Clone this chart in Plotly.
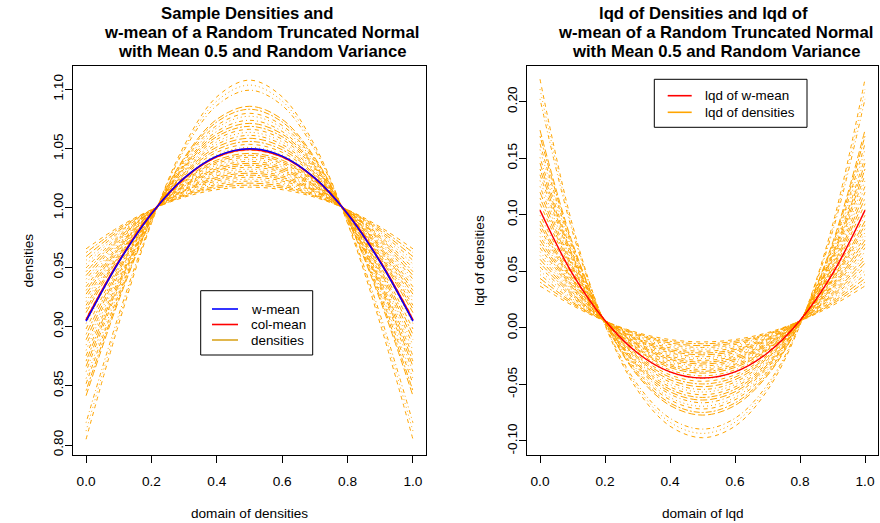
import plotly.graph_objects as go

W, H = 880, 523

# ---------------- data ----------------
x_grid = [0.0, 0.1, 0.2, 0.3, 0.4, 0.5, 0.6, 0.7, 0.8, 0.9, 1.0]
t_grid = [0.0, 0.1, 0.2, 0.3, 0.4, 0.5, 0.6, 0.7, 0.8, 0.9, 1.0]

density_rows = [
    [.8049, .9021, .9870, 1.0525, 1.0937, 1.1078, 1.0937, 1.0525, .9870, .9021, .8049],
    [.8118, .9059, .9876, 1.0505, 1.0901, 1.1036, 1.0901, 1.0505, .9876, .9059, .8118],
    [.8188, .9098, .9883, 1.0486, 1.0864, 1.0993, 1.0864, 1.0486, .9883, .9098, .8188],
    [.8416, .9220, .9903, 1.0423, 1.0747, 1.0857, 1.0747, 1.0423, .9903, .9220, .8416],
    [.8459, .9243, .9907, 1.0411, 1.0725, 1.0832, 1.0725, 1.0411, .9907, .9243, .8459],
    [.8517, .9273, .9912, 1.0395, 1.0696, 1.0798, 1.0696, 1.0395, .9912, .9273, .8517],
    [.8561, .9296, .9915, 1.0383, 1.0674, 1.0773, 1.0674, 1.0383, .9915, .9296, .8561],
    [.8619, .9327, .9920, 1.0367, 1.0645, 1.0739, 1.0645, 1.0367, .9920, .9327, .8619],
    [.8664, .9349, .9923, 1.0355, 1.0623, 1.0713, 1.0623, 1.0355, .9923, .9349, .8664],
    [.8708, .9372, .9927, 1.0343, 1.0601, 1.0688, 1.0601, 1.0343, .9927, .9372, .8708],
    [.8753, .9395, .9930, 1.0331, 1.0579, 1.0663, 1.0579, 1.0331, .9930, .9395, .8753],
    [.8798, .9418, .9933, 1.0319, 1.0557, 1.0637, 1.0557, 1.0319, .9933, .9418, .8798],
    [.8843, .9441, .9937, 1.0307, 1.0535, 1.0612, 1.0535, 1.0307, .9937, .9441, .8843],
    [.8888, .9464, .9940, 1.0294, 1.0513, 1.0587, 1.0513, 1.0294, .9940, .9464, .8888],
    [.8933, .9487, .9943, 1.0282, 1.0491, 1.0561, 1.0491, 1.0282, .9943, .9487, .8933],
    [.8979, .9510, .9946, 1.0270, 1.0469, 1.0536, 1.0469, 1.0270, .9946, .9510, .8979],
    [.9025, .9533, .9949, 1.0257, 1.0447, 1.0511, 1.0447, 1.0257, .9949, .9533, .9025],
    [.9071, .9556, .9952, 1.0245, 1.0425, 1.0486, 1.0425, 1.0245, .9952, .9556, .9071],
    [.9117, .9579, .9955, 1.0233, 1.0403, 1.0460, 1.0403, 1.0233, .9955, .9579, .9117],
    [.9148, .9594, .9957, 1.0225, 1.0388, 1.0444, 1.0388, 1.0225, .9957, .9594, .9148],
    [.9179, .9609, .9959, 1.0216, 1.0374, 1.0427, 1.0374, 1.0216, .9959, .9609, .9179],
    [.9210, .9625, .9961, 1.0208, 1.0359, 1.0410, 1.0359, 1.0208, .9961, .9625, .9210],
    [.9241, .9640, .9963, 1.0200, 1.0344, 1.0393, 1.0344, 1.0200, .9963, .9640, .9241],
    [.9273, .9655, .9964, 1.0191, 1.0330, 1.0376, 1.0330, 1.0191, .9964, .9655, .9273],
    [.9304, .9671, .9966, 1.0183, 1.0315, 1.0360, 1.0315, 1.0183, .9966, .9671, .9304],
    [.9335, .9686, .9968, 1.0175, 1.0301, 1.0343, 1.0301, 1.0175, .9968, .9686, .9335],
    [.9367, .9701, .9970, 1.0166, 1.0286, 1.0326, 1.0286, 1.0166, .9970, .9701, .9367],
    [.9399, .9717, .9972, 1.0158, 1.0271, 1.0309, 1.0271, 1.0158, .9972, .9717, .9399],
    [.9430, .9732, .9973, 1.0149, 1.0257, 1.0293, 1.0257, 1.0149, .9973, .9732, .9430],
    [.9462, .9747, .9975, 1.0141, 1.0242, 1.0276, 1.0242, 1.0141, .9975, .9747, .9462],
    [.9494, .9762, .9977, 1.0133, 1.0227, 1.0259, 1.0227, 1.0133, .9977, .9762, .9494],
    [.9526, .9778, .9978, 1.0124, 1.0213, 1.0242, 1.0213, 1.0124, .9978, .9778, .9526],
    [.9558, .9793, .9980, 1.0116, 1.0198, 1.0226, 1.0198, 1.0116, .9980, .9793, .9558],
    [.9590, .9808, .9982, 1.0107, 1.0183, 1.0209, 1.0183, 1.0107, .9982, .9808, .9590],
    [.9623, .9824, .9983, 1.0099, 1.0169, 1.0192, 1.0169, 1.0099, .9983, .9824, .9623],
    [.9655, .9839, .9985, 1.0090, 1.0154, 1.0175, 1.0154, 1.0090, .9985, .9839, .9655],
]

wmean_density = [.9045, .9543, .9950, 1.0252, 1.0437, 1.0500, 1.0437, 1.0252, .9950, .9543, .9045]
colmean_density = [.9052, .9547, .9951, 1.0250, 1.0433, 1.0495, 1.0433, 1.0250, .9951, .9547, .9052]

lqd_rows = [
    [.2199, .0910, .0024, -.0551, -.0869, -.0971, -.0869, -.0551, .0024, .0910, .2199],
    [.2112, .0880, .0029, -.0526, -.0834, -.0933, -.0834, -.0526, .0029, .0880, .2112],
    [.2025, .0850, .0034, -.0501, -.0799, -.0895, -.0799, -.0501, .0034, .0850, .2025],
    [.1749, .0751, .0047, -.0421, -.0686, -.0771, -.0686, -.0421, .0047, .0751, .1749],
    [.1697, .0732, .0049, -.0407, -.0664, -.0748, -.0664, -.0407, .0049, .0732, .1697],
    [.1628, .0707, .0052, -.0387, -.0636, -.0717, -.0636, -.0387, .0052, .0707, .1628],
    [.1577, .0688, .0054, -.0373, -.0615, -.0693, -.0615, -.0373, .0054, .0688, .1577],
    [.1508, .0662, .0056, -.0353, -.0586, -.0662, -.0586, -.0353, .0056, .0662, .1508],
    [.1457, .0642, .0057, -.0339, -.0565, -.0638, -.0565, -.0339, .0057, .0642, .1457],
    [.1405, .0623, .0059, -.0324, -.0543, -.0615, -.0543, -.0324, .0059, .0623, .1405],
    [.1354, .0603, .0060, -.0310, -.0522, -.0591, -.0522, -.0310, .0060, .0603, .1354],
    [.1303, .0583, .0061, -.0296, -.0501, -.0567, -.0501, -.0296, .0061, .0583, .1303],
    [.1251, .0563, .0062, -.0281, -.0479, -.0544, -.0479, -.0281, .0062, .0563, .1251],
    [.1200, .0543, .0063, -.0267, -.0458, -.0520, -.0458, -.0267, .0063, .0543, .1200],
    [.1149, .0523, .0064, -.0253, -.0436, -.0496, -.0436, -.0253, .0064, .0523, .1149],
    [.1098, .0503, .0065, -.0239, -.0415, -.0472, -.0415, -.0239, .0065, .0503, .1098],
    [.1047, .0482, .0065, -.0225, -.0393, -.0448, -.0393, -.0225, .0065, .0482, .1047],
    [.0996, .0462, .0066, -.0211, -.0371, -.0424, -.0371, -.0211, .0066, .0462, .0996],
    [.0945, .0441, .0066, -.0197, -.0350, -.0400, -.0350, -.0197, .0066, .0441, .0945],
    [.0911, .0427, .0066, -.0188, -.0335, -.0384, -.0335, -.0188, .0066, .0427, .0911],
    [.0877, .0413, .0066, -.0178, -.0321, -.0368, -.0321, -.0178, .0066, .0413, .0877],
    [.0843, .0399, .0066, -.0169, -.0307, -.0352, -.0307, -.0169, .0066, .0399, .0843],
    [.0809, .0385, .0066, -.0160, -.0292, -.0336, -.0292, -.0160, .0066, .0385, .0809],
    [.0776, .0371, .0066, -.0151, -.0278, -.0319, -.0278, -.0151, .0066, .0371, .0776],
    [.0742, .0357, .0066, -.0142, -.0263, -.0303, -.0263, -.0142, .0066, .0357, .0742],
    [.0708, .0343, .0066, -.0132, -.0249, -.0287, -.0249, -.0132, .0066, .0343, .0708],
    [.0674, .0329, .0066, -.0123, -.0234, -.0271, -.0234, -.0123, .0066, .0329, .0674],
    [.0640, .0314, .0065, -.0114, -.0220, -.0255, -.0220, -.0114, .0065, .0314, .0640],
    [.0607, .0300, .0065, -.0105, -.0205, -.0238, -.0205, -.0105, .0065, .0300, .0607],
    [.0573, .0286, .0065, -.0096, -.0191, -.0222, -.0191, -.0096, .0065, .0286, .0573],
    [.0539, .0271, .0064, -.0087, -.0176, -.0206, -.0176, -.0087, .0064, .0271, .0539],
    [.0506, .0257, .0064, -.0078, -.0162, -.0189, -.0162, -.0078, .0064, .0257, .0506],
    [.0472, .0242, .0063, -.0069, -.0147, -.0173, -.0147, -.0069, .0063, .0242, .0472],
    [.0438, .0227, .0062, -.0060, -.0133, -.0157, -.0133, -.0060, .0062, .0227, .0438],
    [.0405, .0213, .0062, -.0051, -.0118, -.0140, -.0118, -.0051, .0062, .0213, .0405],
    [.0371, .0198, .0061, -.0042, -.0103, -.0124, -.0103, -.0042, .0061, .0198, .0371],
]

wmean_lqd = [.1040, .0478, .0065, -.0222, -.0389, -.0444, -.0389, -.0222, .0065, .0478, .1040]

x_ticks = [0.0, 0.2, 0.4, 0.6, 0.8, 1.0]
x_ticklabels = ["0.0", "0.2", "0.4", "0.6", "0.8", "1.0"]
y1_ticks = [0.80, 0.85, 0.90, 0.95, 1.00, 1.05, 1.10]
y1_ticklabels = ["0.80", "0.85", "0.90", "0.95", "1.00", "1.05", "1.10"]
y2_ticks = [-0.10, -0.05, 0.00, 0.05, 0.10, 0.15, 0.20]
y2_ticklabels = ["-0.10", "-0.05", "0.00", "0.05", "0.10", "0.15", "0.20"]

left_title = ["Sample Densities and", "w-mean of a Random Truncated Normal", "with Mean 0.5 and Random Variance"]
right_title = ["lqd of Densities and lqd of", "w-mean of a Random Truncated Normal", "with Mean 0.5 and Random Variance"]

# ---------------- styling ----------------
FONT = "Liberation Sans, Arial, Helvetica, sans-serif"
ORANGE = "#FFA500"
dash_cycle = ["4px,4px", "1px,3px", "1px,3px,4px,3px", "7px,3px", "2px,2px,6px,2px"]


def px(x):
    return x / W


def py(y):
    return 1 - y / H


fig = go.Figure()

for i, row in enumerate(density_rows):
    fig.add_trace(go.Scatter(x=x_grid, y=row, mode="lines", xaxis="x", yaxis="y",
                             line=dict(color=ORANGE, width=1, dash=dash_cycle[i % 5], shape="spline"),
                             showlegend=False, hoverinfo="skip"))
fig.add_trace(go.Scatter(x=x_grid, y=colmean_density, mode="lines", xaxis="x", yaxis="y",
                         line=dict(color="#FF0000", width=2, shape="spline"), showlegend=False))
fig.add_trace(go.Scatter(x=x_grid, y=wmean_density, mode="lines", xaxis="x", yaxis="y",
                         line=dict(color="#0000FF", width=1.5, shape="spline"), showlegend=False))

for i, row in enumerate(lqd_rows):
    fig.add_trace(go.Scatter(x=t_grid, y=row, mode="lines", xaxis="x2", yaxis="y2",
                             line=dict(color=ORANGE, width=1, dash=dash_cycle[i % 5], shape="spline"),
                             showlegend=False, hoverinfo="skip"))
fig.add_trace(go.Scatter(x=t_grid, y=wmean_lqd, mode="lines", xaxis="x2", yaxis="y2",
                         line=dict(color="#FF0000", width=1.5, shape="spline"), showlegend=False))

tickfont = dict(family=FONT, size=13.7, color="#000000")
common_axis = dict(showline=True, mirror=True, linecolor="#000000", linewidth=1,
                   ticks="outside", ticklen=7, tickcolor="#000000", tickwidth=1,
                   showgrid=False, zeroline=False, tickfont=tickfont)

fig.update_layout(
    width=W, height=H, margin=dict(l=0, r=0, t=0, b=0),
    paper_bgcolor="white", plot_bgcolor="white", showlegend=False,
    xaxis=dict(domain=[px(73), px(426)], range=[-0.04, 1.04], anchor="y",
               tickvals=x_ticks, ticktext=x_ticklabels, ticklabelstandoff=7, **common_axis),
    yaxis=dict(domain=[py(455), py(66)], range=[0.7916, 1.1197], anchor="x",
               tickvals=y1_ticks, ticktext=y1_ticklabels, tickangle=-90, ticklabelstandoff=-3, **common_axis),
    xaxis2=dict(domain=[px(527), px(878)], range=[-0.04, 1.04], anchor="y2",
                tickvals=x_ticks, ticktext=x_ticklabels, ticklabelstandoff=7, **common_axis),
    yaxis2=dict(domain=[py(455), py(66)], range=[-0.1124, 0.2316], anchor="x2",
                tickvals=y2_ticks, ticktext=y2_ticklabels, tickangle=-90, ticklabelstandoff=-3, **common_axis),
)

annotations = []
# titles
title_font = dict(family=FONT, size=16.7, color="#000000")
for txt, xc, yc in zip(left_title, [248, 261.5, 261.5], [13.3, 32.5, 51.7]):
    annotations.append(dict(text="<b>" + txt + "</b>", x=px(xc), y=py(yc), xref="paper", yref="paper",
                            xanchor="center", yanchor="middle", showarrow=False, font=title_font))
for txt, xc, yc in zip(right_title, [703, 715.7, 715.7], [13.3, 32.5, 51.7]):
    annotations.append(dict(text="<b>" + txt + "</b>", x=px(xc), y=py(yc), xref="paper", yref="paper",
                            xanchor="center", yanchor="middle", showarrow=False, font=title_font))
# axis titles
axis_font = dict(family=FONT, size=13.6, color="#000000")
annotations += [
    dict(text="domain of densities", x=px(249.5), y=py(513), xref="paper", yref="paper",
         showarrow=False, xanchor="center", yanchor="middle", font=axis_font),
    dict(text="domain of lqd", x=px(702.5), y=py(513), xref="paper", yref="paper",
         showarrow=False, xanchor="center", yanchor="middle", font=axis_font),
    dict(text="densities", x=px(27.5), y=py(261), xref="paper", yref="paper", textangle=-90,
         showarrow=False, xanchor="center", yanchor="middle", font=axis_font),
    dict(text="lqd of densities", x=px(479), y=py(261), xref="paper", yref="paper", textangle=-90,
         showarrow=False, xanchor="center", yanchor="middle", font=axis_font),
]

# legends (drawn like R's legend boxes)
leg_font = dict(family=FONT, size=13.4, color="#000000")
shapes = [
    dict(type="rect", xref="paper", yref="paper", x0=px(200.7), x1=px(312.7), y0=py(355), y1=py(290.7),
         line=dict(color="#000000", width=1), fillcolor="white", layer="above"),
    dict(type="rect", xref="paper", yref="paper", x0=px(654.3), x1=px(807), y0=py(127.3), y1=py(79.3),
         line=dict(color="#000000", width=1), fillcolor="white", layer="above"),
]
left_items = [("w-mean", "#0000FF", 309), ("col-mean", "#FF0000", 324.5), ("densities", "#DAA520", 340)]
for label, col, yy in left_items:
    shapes.append(dict(type="line", xref="paper", yref="paper", x0=px(212), x1=px(238), y0=py(yy), y1=py(yy),
                       line=dict(color=col, width=1.6), layer="above"))
    annotations.append(dict(text=label, x=px(249), y=py(yy), xref="paper", yref="paper", showarrow=False,
                            xanchor="left", yanchor="middle", font=leg_font))
right_items = [("lqd of w-mean", "#FF0000", 95.7), ("lqd of densities", ORANGE, 112.3)]
for label, col, yy in right_items:
    shapes.append(dict(type="line", xref="paper", yref="paper", x0=px(667.7), x1=px(691.7), y0=py(yy), y1=py(yy),
                       line=dict(color=col, width=1.6), layer="above"))
    annotations.append(dict(text=label, x=px(703.3), y=py(yy), xref="paper", yref="paper", showarrow=False,
                            xanchor="left", yanchor="middle", font=leg_font))

fig.update_layout(annotations=annotations, shapes=shapes)

fig.write_html("out.html", config={"displayModeBar": False},
               post_script="document.body.style.margin='0px';document.body.style.overflow='hidden';")
